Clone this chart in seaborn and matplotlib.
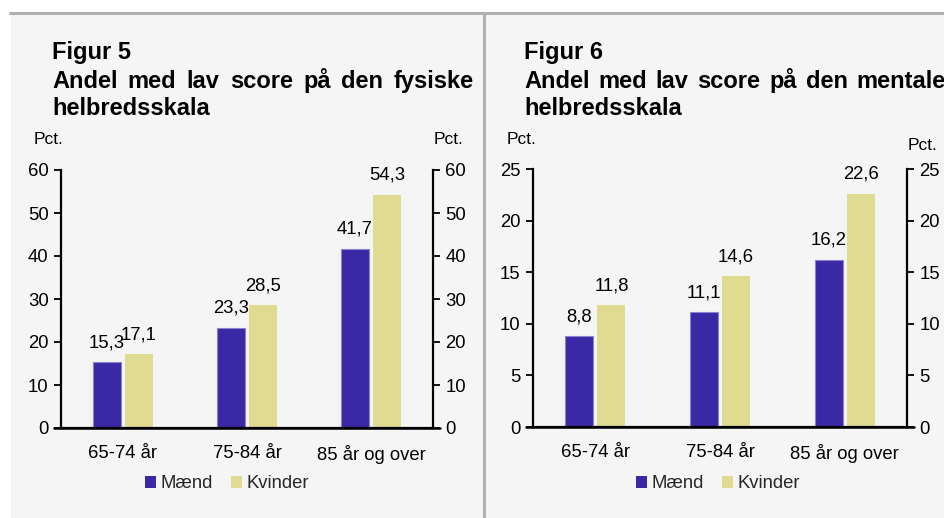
import matplotlib
matplotlib.use("Agg")
import matplotlib.pyplot as plt
import seaborn as sns
import pandas as pd
from matplotlib.patches import Rectangle
from matplotlib.lines import Line2D

categories = ["65-74 år", "75-84 år", "85 år og over"]
series = ["Mænd", "Kvinder"]
fysisk_maend = [15.3, 23.3, 41.7]
fysisk_kvinder = [17.1, 28.5, 54.3]
mental_maend = [8.8, 11.1, 16.2]
mental_kvinder = [11.8, 14.6, 22.6]
fysisk_ticks = [0, 10, 20, 30, 40, 50, 60]
mental_ticks = [0, 5, 10, 15, 20, 25]

sns.set_theme(style="white")
plt.rcParams["font.family"] = ["Liberation Sans", "DejaVu Sans"]

C_M = "#3a28a5"
C_K = "#dfdc92"
BG = "#f5f5f5"
GRID = "#b3b0ae"

W, H = 945, 518
fig = plt.figure(figsize=(W / 100, H / 100), dpi=100)
fig.patch.set_facecolor("white")
renderer = fig.canvas.get_renderer()

def fx(px):
    return px / W

def fy(py):
    return 1 - py / H

# panel backgrounds and separator lines
fig.add_artist(Rectangle((fx(11), 0), fx(483 - 11), fy(13), transform=fig.transFigure,
                         facecolor=BG, edgecolor="none", zorder=0))
fig.add_artist(Rectangle((fx(486), 0), fx(W - 486), fy(13), transform=fig.transFigure,
                         facecolor=BG, edgecolor="none", zorder=0))
fig.add_artist(Line2D([fx(10), 1], [fy(12.5), fy(12.5)], transform=fig.transFigure,
                      color=GRID, lw=2.2, zorder=1))
fig.add_artist(Line2D([fx(484), fx(484)], [0, fy(12.5)], transform=fig.transFigure,
                      color=GRID, lw=2.2, zorder=1))

TITLE_KW = dict(fontsize=17, fontweight="bold", ha="left", va="baseline", color="black")

def justified(text, x0, width, ybase):
    words = text.split(" ")
    widths = []
    for w in words:
        t = fig.text(0, 0, w, **TITLE_KW)
        widths.append(t.get_window_extent(renderer).width)
        t.remove()
    gap = (width - sum(widths)) / (len(words) - 1)
    x = x0
    for w, wd in zip(words, widths):
        fig.text(fx(x), fy(ybase), w, **TITLE_KW)
        x += wd + gap

def panel(rect, m_vals, k_vals, ticks, title_lines, tx, pct_left, pct_right):
    ax = fig.add_axes(rect)
    ax.set_facecolor("none")
    df = pd.DataFrame({
        "cat": categories * 2,
        "val": m_vals + k_vals,
        "sex": [series[0]] * 3 + [series[1]] * 3,
    })
    sns.barplot(data=df, x="cat", y="val", hue="sex", order=categories, hue_order=series,
                palette=[C_M, C_K], width=0.516, gap=0.125, saturation=1, ax=ax,
                errorbar=None, legend=False)
    for i, cont in enumerate(ax.containers):
        for p in cont:
            if i == 0:
                p.set_edgecolor("#8b82d2")
                p.set_linewidth(0.8)
            else:
                p.set_edgecolor("none")
        ax.bar_label(cont, labels=[f"{v:.1f}".replace(".", ",") for v in cont.datavalues],
                     padding=8, fontsize=13.3, color="black")
    ax.set_xlim(-0.5, 2.5)
    ax.set_ylim(ticks[0], ticks[-1])
    ax.set_yticks(ticks)
    ax.set_xlabel("")
    ax.set_ylabel("")
    ax.spines["top"].set_visible(False)
    for s in ["left", "right", "bottom"]:
        ax.spines[s].set_visible(True)
        ax.spines[s].set_color("black")
        ax.spines[s].set_linewidth(1.6)
    ax.tick_params(axis="y", which="both", left=True, right=True, labelleft=True,
                   labelright=True, direction="out", length=5, width=1.3, labelsize=13.3,
                   pad=4, colors="black")
    ax.tick_params(axis="x", bottom=False, labelsize=13.3, pad=6, colors="black")
    ax.axhline(0, color="black", lw=1.8, clip_on=False, xmin=-0.02, xmax=1.02)
    # titles
    fig.text(fx(tx), fy(59), title_lines[0], **TITLE_KW)
    justified(title_lines[1], tx, 422, 88)
    fig.text(fx(tx), fy(115), title_lines[2], **TITLE_KW)
    # Pct. labels
    fig.text(fx(pct_left[0]), fy(pct_left[1]), "Pct.", fontsize=12.5, ha="center",
             va="center", color="black")
    fig.text(fx(pct_right[0]), fy(pct_right[1]), "Pct.", fontsize=12.5, ha="center",
             va="center", color="black")
    return ax

ax1 = panel([fx(61), fy(428), fx(433 - 61), (428 - 170) / H], fysisk_maend, fysisk_kvinder,
            fysisk_ticks, ["Figur 5", "Andel med lav score på den fysiske", "helbredsskala"],
            52, (49, 140), (449, 140))
ax2 = panel([fx(533), fy(427), fx(907 - 533), (427 - 169) / H], mental_maend, mental_kvinder,
            mental_ticks, ["Figur 6", "Andel med lav score på den mentale", "helbredsskala"],
            524, (522, 140), (923, 145))

handles = [Rectangle((0, 0), 1, 1, facecolor=C_M, edgecolor="none"),
           Rectangle((0, 0), 1, 1, facecolor=C_K, edgecolor="none")]
for cx in (227, 718):
    fig.legend(handles, series, loc="center", bbox_to_anchor=(fx(cx), fy(484)),
               ncol=2, frameon=False, fontsize=13.3, handlelength=0.6, handleheight=0.6,
               handletextpad=0.25, columnspacing=1.0, borderpad=0)

fig.savefig("out.png", dpi=100, facecolor=fig.get_facecolor())
